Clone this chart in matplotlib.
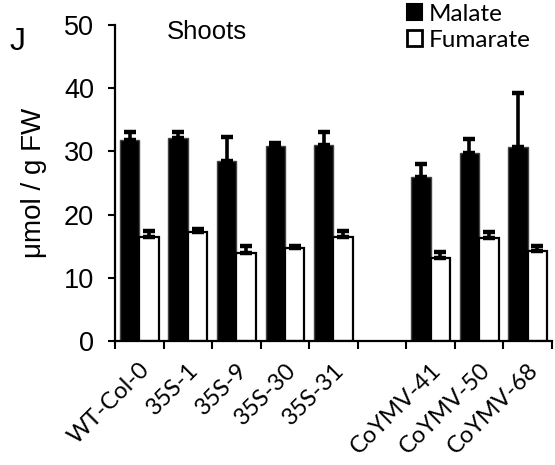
import numpy as np
import matplotlib
matplotlib.use("Agg")
import matplotlib.pyplot as plt
from matplotlib.patches import Patch

# shoot organic acids, umol / g FW (mean, upper SD)
lines = ['WT-Col-0', '35S-1', '35S-9', '35S-30', '35S-31',
         'CoYMV-41', 'CoYMV-50', 'CoYMV-68']
malate = [31.8, 32.1, 28.5, 30.8, 31.0, 25.9, 29.8, 30.7]
malate_err = [1.2, 1.0, 3.8, 0.5, 2.1, 2.1, 2.2, 8.5]
fumarate = [16.4, 17.2, 14.0, 14.7, 16.5, 13.2, 16.3, 14.3]
fumarate_err = [1.0, 0.6, 1.0, 0.3, 0.9, 0.9, 1.0, 0.7]

arial = 'Liberation Sans'
calibri = 'Lato'

# 35S lines and CoYMV lines separated by one empty slot
pos = np.array([i if i < 5 else i + 1 for i in range(len(lines))])
w = 0.4

fig = plt.figure(figsize=(5.55, 4.65), dpi=100)
ax = fig.add_axes([0.2072, 0.2667, 0.7874, 0.6795])

err_kw = dict(elinewidth=2.6, capsize=4.3, capthick=3.2, ecolor='black')
ax.bar(pos - w / 2, malate, w, color='black', edgecolor='#444444', linewidth=1.0,
       yerr=[np.zeros(len(malate)), malate_err], error_kw=err_kw)
ax.bar(pos + w / 2, fumarate, w, color='white', edgecolor='black', linewidth=1.6,
       yerr=[np.zeros(len(fumarate)), fumarate_err], error_kw=err_kw)

ax.set_xlim(-0.5, 8.5)
ax.set_ylim(0, 50)
ax.set_yticks([0, 10, 20, 30, 40, 50])
for lab in ax.get_yticklabels():
    lab.set_fontfamily(arial)
ax.tick_params(axis='y', labelsize=19.5, length=5, width=1.5, pad=10)

# tick marks between groups, labels under group centres
ax.set_xticks(np.arange(-0.5, 9.0, 1.0))
ax.set_xticklabels([])
ax.set_xticks(pos, minor=True)
ax.set_xticklabels(lines, minor=True, rotation=45, ha='right',
                   rotation_mode='anchor', fontfamily=calibri, fontsize=17)
ax.tick_params(axis='x', which='major', length=6, width=1.5)
ax.tick_params(axis='x', which='minor', length=0, pad=13)

for side in ['top', 'right']:
    ax.spines[side].set_visible(False)
for side in ['left', 'bottom']:
    ax.spines[side].set_linewidth(1.6)

ax.set_ylabel('μmol / g FW', fontfamily=arial, fontsize=20, labelpad=12)

fig.text(0.301, 0.931, 'Shoots', fontfamily=arial, fontsize=18.5, va='center')
fig.text(0.018, 0.91, 'J', fontfamily=arial, fontsize=23, va='center')

handles = [Patch(facecolor='black', edgecolor='black', linewidth=1.5),
           Patch(facecolor='white', edgecolor='black', linewidth=2.0)]
fig.legend(handles, ['Malate', 'Fumarate'], loc='upper left',
           bbox_to_anchor=(0.733, 0.992), frameon=False,
           prop={'family': calibri, 'size': 17.5},
           handlelength=0.62, handleheight=0.6, handletextpad=0.3,
           labelspacing=0.2, borderpad=0.0, borderaxespad=0)

fig.savefig('out.png', dpi=100)
